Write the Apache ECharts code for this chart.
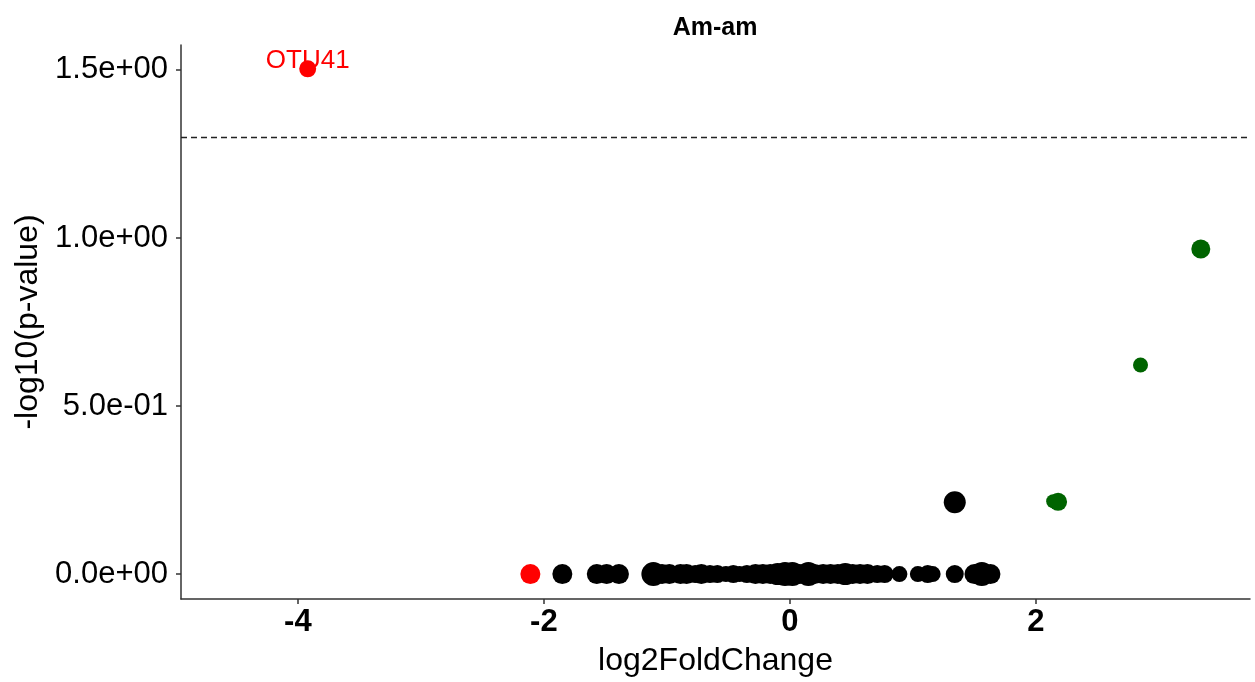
<!DOCTYPE html>
<html>
<head>
<meta charset="utf-8">
<script src="https://cdn.jsdelivr.net/npm/echarts@6/dist/echarts.min.js"></script>
<style>
  html, body { margin: 0; padding: 0; background: #fff; }
  #main { width: 1255px; height: 682px; }
</style>
</head>
<body>
<div id="main"></div>
<script>
// 火山图 Am-am
var xTicks = [-4, -2, 0, 2];
var yTicks = [0, 0.5, 1.0, 1.5];
var cutoff = 1.301; // -log10(0.05)

// 不显著 (黑)
var nsX = [-1.85, -1.57, -1.49, -1.39, -1.11, -1.04, -0.98, -0.89, -0.84, -0.77, -0.72, -0.65,
           -0.59, -0.52, -0.46, -0.41, -0.35, -0.28, -0.22, -0.16, -0.10, -0.04, 0.02, 0.08,
           0.15, 0.20, 0.27, 0.33, 0.39, 0.45, 0.51, 0.57, 0.63, 0.71, 0.77, 0.89, 1.04, 1.12,
           1.16, 1.34, 1.50, 1.56, 1.63, 1.34];
var nsY = [0, 0, 0, 0, 0, 0, 0, 0, 0, 0, 0, 0,
           0, 0, 0, 0, 0, 0, 0, 0, 0, 0, 0, 0,
           0, 0, 0, 0, 0, 0, 0, 0, 0, 0, 0, 0, 0, 0,
           0, 0, 0, 0, 0, 0.214];
var nsSize = [20, 20, 20, 20, 24, 20, 20, 20, 20, 18, 20, 18,
              18, 16, 18, 16, 18, 20, 20, 20, 22, 24, 24, 20,
              24, 20, 20, 20, 20, 22, 20, 20, 20, 18, 18, 16, 16, 18,
              16, 18, 20, 24, 20, 22];

// 下调 (红)
var downX = [-3.92, -2.11];
var downY = [1.503, 0];
var downSize = [17, 20];
var downName = ['OTU41', ''];

// 上调 (绿)
var upX = [2.14, 2.18, 2.85, 3.34];
var upY = [0.217, 0.215, 0.622, 0.967];
var upSize = [14, 18, 15, 19];

function pts(xs, ys, ss, names) {
  var res = [];
  for (var i = 0; i < xs.length; i++) {
    res.push({ name: names ? names[i] : '', value: [xs[i], ys[i]], symbolSize: ss[i] });
  }
  return res;
}

function sciFmt(v) {
  var s = v.toExponential(1).split('e');
  var e = parseInt(s[1], 10);
  var sign = e < 0 ? '-' : '+';
  var a = Math.abs(e);
  return s[0] + 'e' + sign + (a < 10 ? '0' + a : a);
}

var chart = echarts.init(document.getElementById('main'));
var option = {
  animation: false,
  title: {
    text: 'Am-am',
    left: 715,
    top: 11,
    textAlign: 'center',
    textStyle: { fontFamily: 'Liberation Sans', fontSize: 25, fontWeight: 'bold', color: '#000' }
  },
  grid: { left: 181, right: 5, top: 45, bottom: 83 },
  xAxis: {
    type: 'value',
    min: -4.95,
    max: 3.74,
    name: 'log2FoldChange',
    nameLocation: 'middle',
    nameGap: 46,
    nameTextStyle: { fontFamily: 'Liberation Sans', fontSize: 32, color: '#000' },
    axisLine: { show: true, onZero: false, lineStyle: { color: '#333', width: 1.5 } },
    axisTick: { show: true, length: 5, customValues: xTicks, lineStyle: { color: '#333', width: 1.5 } },
    axisLabel: {
      customValues: xTicks,
      margin: 8,
      fontFamily: 'Liberation Sans', fontSize: 31, fontWeight: 'bold', color: '#000'
    },
    splitLine: { show: false }
  },
  yAxis: {
    type: 'value',
    min: -0.074,
    max: 1.574,
    name: '-log10(p-value)',
    nameLocation: 'middle',
    nameGap: 137,
    nameTextStyle: { fontFamily: 'Liberation Sans', fontSize: 32, color: '#000' },
    axisLine: { show: true, onZero: false, lineStyle: { color: '#333', width: 1.5 } },
    axisTick: { show: true, length: 5, customValues: yTicks, lineStyle: { color: '#333', width: 1.5 } },
    axisLabel: {
      customValues: yTicks,
      margin: 13,
      formatter: sciFmt,
      fontFamily: 'Liberation Sans', fontSize: 31, color: '#000'
    },
    splitLine: { show: false }
  },
  series: [
    {
      type: 'scatter',
      data: pts(nsX, nsY, nsSize),
      itemStyle: { color: '#000', opacity: 1 },
      markLine: {
        silent: true,
        symbol: 'none',
        label: { show: false },
        lineStyle: { type: [6, 4], color: '#222', width: 1.3 },
        data: [{ yAxis: cutoff }]
      }
    },
    {
      type: 'scatter',
      data: pts(downX, downY, downSize, downName),
      itemStyle: { color: '#ff0000', opacity: 1 },
      label: {
        show: true,
        position: 'inside',
        offset: [0, -8],
        formatter: '{b}',
        fontFamily: 'Liberation Sans',
        fontSize: 26,
        color: '#ff0000'
      }
    },
    {
      type: 'scatter',
      data: pts(upX, upY, upSize),
      itemStyle: { color: '#006400', opacity: 1 }
    }
  ]
};
option.title.left = 710;
chart.setOption(option);
</script>
</body>
</html>
